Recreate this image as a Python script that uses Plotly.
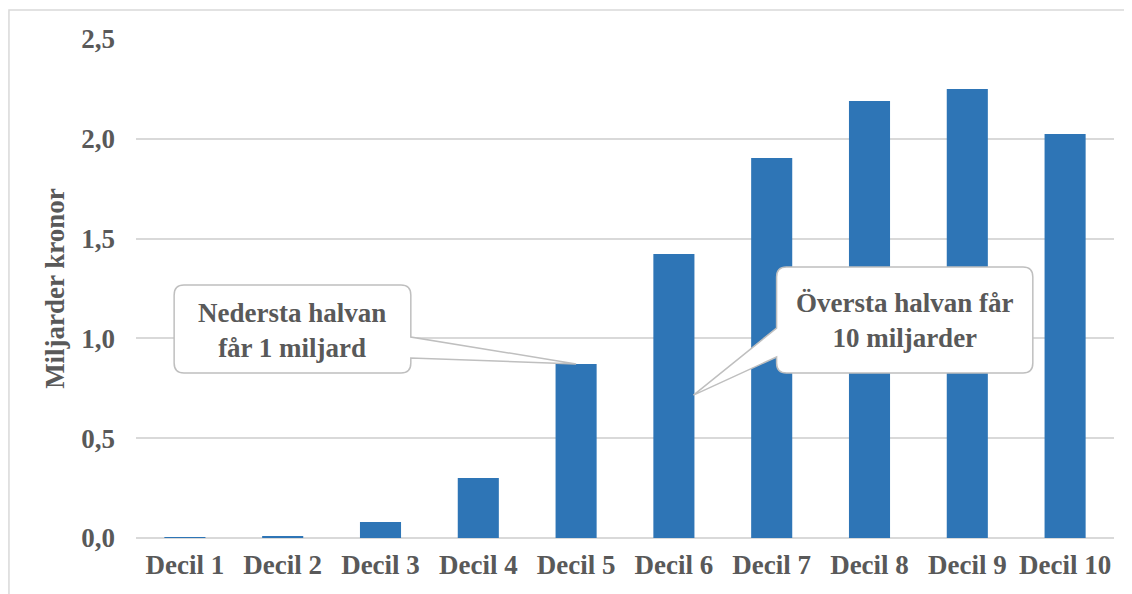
import plotly.graph_objects as go

# -------------------------------------------------
# Data
# -------------------------------------------------
deciles = ["Decil 1", "Decil 2", "Decil 3", "Decil 4", "Decil 5",
           "Decil 6", "Decil 7", "Decil 8", "Decil 9", "Decil 10"]
values = [0.004, 0.01, 0.08, 0.30, 0.872, 1.423, 1.904, 2.19, 2.25, 2.024]
y_ticks = [0.0, 0.5, 1.0, 1.5, 2.0, 2.5]
y_tick_labels = ["0,0", "0,5", "1,0", "1,5", "2,0", "2,5"]
callout_low = "Nedersta halvan<br>får 1 miljard"
callout_high = "Översta halvan får<br>10 miljarder"

FONT = "Liberation Serif"
FONT_SIZE = 27
TEXT_COLOR = "#595959"
BAR_COLOR = "#2E75B6"
GRID_COLOR = "#D9D9D9"
BORDER_COLOR = "#BFBFBF"

x_pos = list(range(len(deciles)))


def callout_path(x0, x1, y0, y1, side, base_hi, base_lo, tip, rx=0.1, ry=0.05):
    """Rounded box (x0..x1, y0 bottom..y1 top) with a pointer on one side."""
    tx, ty = tip
    p = [f"M {x0 + rx},{y1}", f"L {x1 - rx},{y1}",
         f"Q {x1},{y1} {x1},{y1 - ry}"]
    if side == "right":
        p += [f"L {x1},{base_hi}", f"L {tx},{ty}", f"L {x1},{base_lo}"]
    p += [f"L {x1},{y0 + ry}", f"Q {x1},{y0} {x1 - rx},{y0}",
          f"L {x0 + rx},{y0}", f"Q {x0},{y0} {x0},{y0 + ry}"]
    if side == "left":
        p += [f"L {x0},{base_lo}", f"L {tx},{ty}", f"L {x0},{base_hi}"]
    p += [f"L {x0},{y1 - ry}", f"Q {x0},{y1} {x0 + rx},{y1}", "Z"]
    return " ".join(p)


fig = go.Figure()

fig.add_bar(
    x=x_pos,
    y=values,
    marker_color=BAR_COLOR,
    marker_line_width=0,
    width=0.42,
)

# callout shapes
low_path = callout_path(-0.11, 2.31, 0.827, 1.267, "right", 1.007, 0.902,
                        (x_pos[4], values[4]))
high_path = callout_path(6.05, 8.67, 0.827, 1.358, "left", 1.052, 0.907,
                         (5.2, 0.716))

shapes = [
    dict(type="path", path=low_path, xref="x", yref="y",
         fillcolor="white", line=dict(color=BORDER_COLOR, width=1.5)),
    dict(type="path", path=high_path, xref="x", yref="y",
         fillcolor="white", line=dict(color=BORDER_COLOR, width=1.5)),
    # chart frame
    dict(type="rect", xref="paper", yref="paper",
         x0=-0.1299, x1=1.03, y0=-0.2, y1=1.058,
         line=dict(color=GRID_COLOR, width=1.5), fillcolor="rgba(0,0,0,0)",
         layer="below"),
]

bold_font = dict(family=FONT, size=FONT_SIZE, color=TEXT_COLOR, weight="bold")

annotations = [
    dict(x=1.1, y=1.04, xref="x", yref="y", text=callout_low,
         showarrow=False, font=bold_font),
    dict(x=7.36, y=1.09, xref="x", yref="y", text=callout_high,
         showarrow=False, font=bold_font),
]

# page body has an 8px margin, so the figure is sized to the visible area
fig.update_layout(
    width=1124,
    height=586,
    template="plotly_white",
    paper_bgcolor="white",
    plot_bgcolor="white",
    margin=dict(l=128, r=18, t=31, b=56),
    showlegend=False,
    font=dict(family=FONT, size=FONT_SIZE, color=TEXT_COLOR),
    shapes=shapes,
    annotations=annotations,
    xaxis=dict(
        range=[-0.5, 9.5],
        tickvals=x_pos,
        ticktext=deciles,
        showgrid=False,
        zeroline=False,
        showline=False,
        ticks="",
        ticklabelstandoff=8,
        tickfont=bold_font,
    ),
    yaxis=dict(
        range=[0, 2.5],
        tickvals=y_ticks,
        ticktext=y_tick_labels,
        showgrid=True,
        gridcolor=GRID_COLOR,
        gridwidth=1.5,
        zeroline=True,
        zerolinecolor=GRID_COLOR,
        zerolinewidth=1.5,
        showline=False,
        ticks="",
        ticklabelstandoff=20,
        tickfont=bold_font,
        title=dict(text="Miljarder kronor", standoff=8, font=bold_font),
    ),
)

fig.write_html("out.html")
